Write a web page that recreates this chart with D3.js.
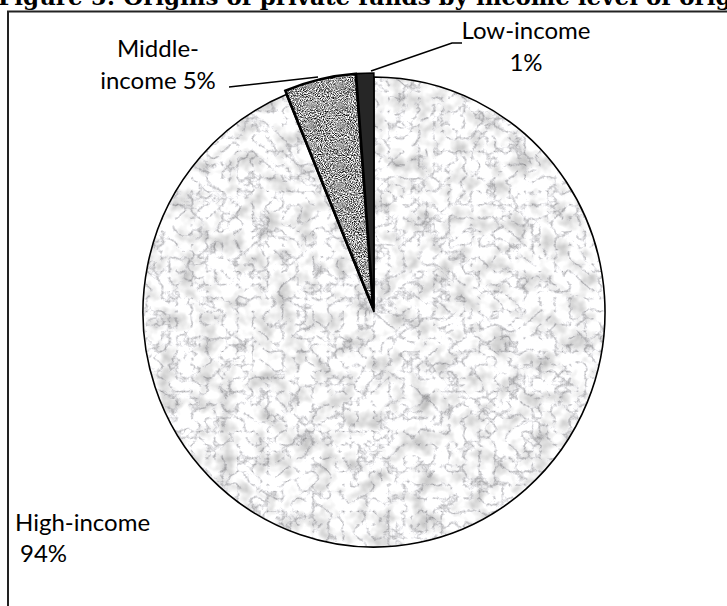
<!DOCTYPE html>
<html>
<head>
<meta charset="utf-8">
<script src="https://cdn.jsdelivr.net/npm/d3@7"></script>
<style>
html,body{margin:0;padding:0;background:#fff;}
svg{display:block;}
</style>
</head>
<body>
<svg id="chart" width="727" height="606"></svg>
<script>
const titleText = "Figure 5: Origins of private funds by income level of origin";
const categories = ["High-income", "Middle-income", "Low-income"];
const values = [93.8, 5.0, 1.2];
const labelLines = [["High-income", "94%"], ["Middle-", "income 5%"], ["Low-income", "1%"]];

const svg = d3.select("#chart");
const defs = svg.append("defs");

// marble texture: fine veins multiplied with soft clouds
const fm = defs.append("filter").attr("id", "marble").attr("x", 0).attr("y", 0).attr("width", 1).attr("height", 1)
  .attr("color-interpolation-filters", "sRGB");
fm.append("feTurbulence").attr("type", "turbulence").attr("baseFrequency", "0.065 0.075").attr("numOctaves", 5).attr("seed", 3).attr("result", "t");
fm.append("feColorMatrix").attr("in", "t").attr("type", "matrix")
  .attr("values", "1.2 0 0 0 0.68  1.2 0 0 0 0.68  1.2 0 0 0 0.69  0 0 0 0 1").attr("result", "c1");
fm.append("feTurbulence").attr("type", "fractalNoise").attr("baseFrequency", "0.05").attr("numOctaves", 3).attr("seed", 11).attr("result", "n");
fm.append("feColorMatrix").attr("in", "n").attr("type", "matrix")
  .attr("values", "0.55 0 0 0 0.70  0.55 0 0 0 0.70  0.55 0 0 0 0.70  0 0 0 0 1").attr("result", "c2");
fm.append("feBlend").attr("in", "c1").attr("in2", "c2").attr("mode", "multiply").attr("result", "b");
fm.append("feComposite").attr("in", "b").attr("in2", "SourceGraphic").attr("operator", "in");

// granite texture
const fg = defs.append("filter").attr("id", "granite").attr("x", 0).attr("y", 0).attr("width", 1).attr("height", 1)
  .attr("color-interpolation-filters", "sRGB");
fg.append("feTurbulence").attr("type", "fractalNoise").attr("baseFrequency", "0.95").attr("numOctaves", 2).attr("seed", 7).attr("result", "t");
fg.append("feColorMatrix").attr("in", "t").attr("type", "matrix")
  .attr("values", "2.2 0 0 0 -0.48  2.2 0 0 0 -0.48  2.2 0 0 0 -0.48  0 0 0 0 1").attr("result", "c");
fg.append("feComposite").attr("in", "c").attr("in2", "SourceGraphic").attr("operator", "in");

// frame
svg.append("rect").attr("x", 8).attr("y", 11.5).attr("width", 760).attr("height", 640)
  .attr("fill", "none").attr("stroke", "#222").attr("stroke-width", 2);

// title (clipped at top as in the reference)
svg.append("text").attr("x", -2).attr("y", 5)
  .attr("font-family", "'DejaVu Serif', 'Liberation Serif', serif").attr("font-weight", "bold")
  .attr("font-size", 23).attr("fill", "#000").text(titleText);

const cx = 374, cy = 312, R = 235, sx = 231 / 235;
const pie = d3.pie().sort(null).startAngle(0).endAngle(2 * Math.PI);
const arcs = pie(values);
const arc = d3.arc().innerRadius(0).outerRadius(R);
const explode = [0, 4, 4];
const filters = ["url(#marble)", "url(#granite)", null];
const strokeW = [1.6, 2.6, 1.6];

const g = svg.append("g").attr("transform", `translate(${cx},${cy}) scale(${sx},1)`);
arcs.forEach((a, i) => {
  const mid = (a.startAngle + a.endAngle) / 2;
  const dx = Math.sin(mid) * explode[i], dy = -Math.cos(mid) * explode[i];
  const gg = g.append("g").attr("transform", `translate(${dx},${dy})`);
  if (filters[i]) {
    gg.append("path").attr("d", arc(a)).attr("fill", "#ccc").attr("filter", filters[i]);
    gg.append("path").attr("d", arc(a)).attr("fill", "none").attr("stroke", "#000").attr("stroke-width", strokeW[i]);
  } else {
    gg.append("path").attr("d", arc(a)).attr("fill", "#262626").attr("stroke", "#000").attr("stroke-width", strokeW[i]);
  }
});

// labels
const lf = "Lato, 'Open Sans', sans-serif";
const fs = 24;
const labelPos = [
  {xs: [15, 20], y: 531, dy: 31, anchor: "start"},
  {xs: [158, 158], y: 57, dy: 32, anchor: "middle"},
  {xs: [526, 526], y: 39, dy: 32, anchor: "middle"}
];
labelLines.forEach((lines, i) => {
  const p = labelPos[i];
  const t = svg.append("text").attr("font-family", lf).attr("font-size", fs).attr("fill", "#000").attr("text-anchor", p.anchor);
  lines.forEach((ln, j) => {
    t.append("tspan").attr("x", p.xs[j]).attr("y", p.y + j * p.dy).text(ln);
  });
});

// leader lines
const line = d3.line();
svg.append("path").attr("d", line([[229, 87], [318, 77]])).attr("fill", "none").attr("stroke", "#000").attr("stroke-width", 1.6);
svg.append("path").attr("d", line([[371, 71], [452, 43], [462, 43]])).attr("fill", "none").attr("stroke", "#000").attr("stroke-width", 1.6);
</script>
</body>
</html>
